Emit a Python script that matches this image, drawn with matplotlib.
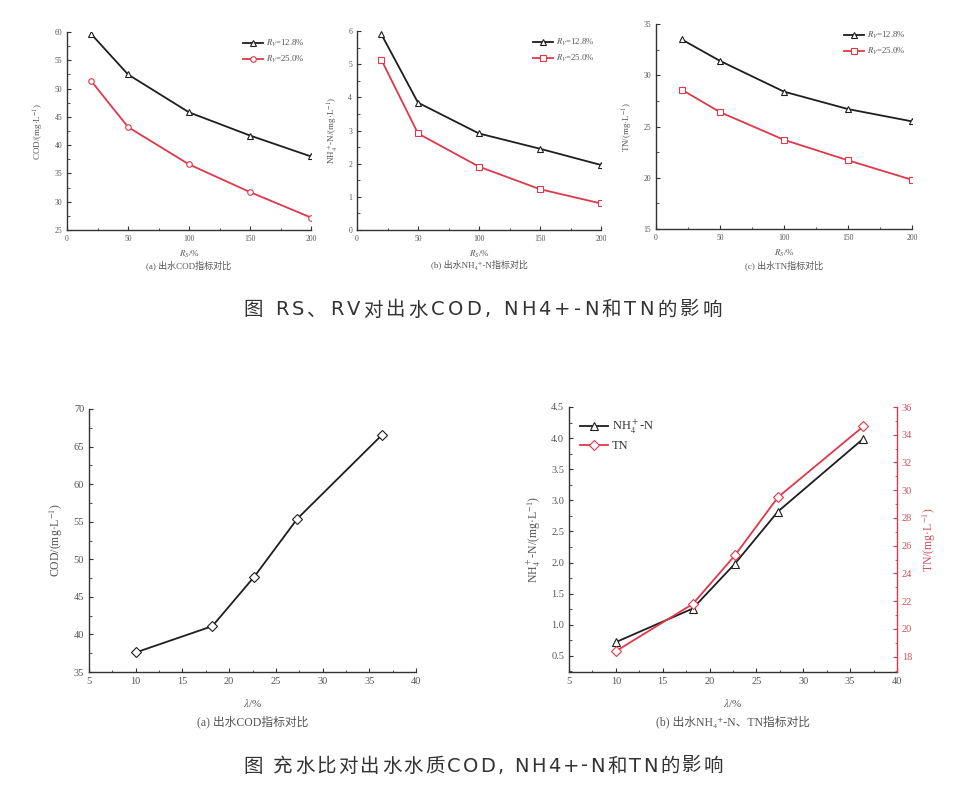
import matplotlib
matplotlib.use("Agg")
import matplotlib.pyplot as plt
from matplotlib.ticker import MultipleLocator, AutoMinorLocator

plt.rcParams['font.family'] = ['Liberation Serif', 'Noto Sans CJK SC', 'DejaVu Sans']
plt.rcParams['mathtext.fontset'] = 'stix'

# ---- data ----
rs = [20, 50, 100, 150, 200]
cod_rv128 = [59.6, 52.5, 45.8, 41.7, 38.0]
cod_rv250 = [51.3, 43.2, 36.6, 31.7, 27.2]
nh4_rv128 = [5.90, 3.84, 2.91, 2.45, 1.96]
nh4_rv250 = [5.13, 2.91, 1.91, 1.23, 0.80]
tn_rv128 = [33.5, 31.4, 28.4, 26.7, 25.5]
tn_rv250 = [28.6, 26.4, 23.7, 21.7, 19.8]

lam = [10, 18.2, 22.7, 27.3, 36.4]
cod_lam = [37.6, 41.1, 47.7, 55.4, 66.6]
nh4_lam = [0.72, 1.26, 1.98, 2.82, 3.99]
tn_lam = [18.4, 21.8, 25.3, 29.5, 34.6]

caption_top = '图 RS、RV对出水COD, NH4+-N和TN的影响'
caption_bottom = '图 充水比对出水水质COD, NH4+-N和TN的影响'

W, H = 961, 789
fig = plt.figure(figsize=(W / 100, H / 100), dpi=100)
fig.patch.set_facecolor('white')

BLACK = '#1e1e1e'
RED = '#e0384a'
GREY = '#555555'
CAPFONT = ['DejaVu Sans', 'Noto Sans CJK SC']


def box(l, r, t, b):
    return [l / W, 1 - b / H, (r - l) / W, (b - t) / H]


def style(ax, fs, minor=True):
    for s in ['top', 'right']:
        ax.spines[s].set_visible(False)
    for s in ['left', 'bottom']:
        ax.spines[s].set_color('#333333')
        ax.spines[s].set_linewidth(1.0)
    ax.tick_params(direction='in', labelsize=fs, colors='#333333', labelcolor=GREY,
                   length=3, width=0.8)
    ax.tick_params(which='minor', direction='in', length=1.8, width=0.6, colors='#333333')
    if minor:
        ax.xaxis.set_minor_locator(AutoMinorLocator(2))
        ax.yaxis.set_minor_locator(AutoMinorLocator(2))


renderer = fig.canvas.get_renderer()


def char_width(ch, fs):
    if ch == ' ':
        a = fig.text(0, 0, 'a a', family=CAPFONT, fontsize=fs)
        b = fig.text(0, 0, 'aa', family=CAPFONT, fontsize=fs)
        w = a.get_window_extent(renderer).width - b.get_window_extent(renderer).width
        a.remove(); b.remove()
        return w
    t = fig.text(0, 0, ch, family=CAPFONT, fontsize=fs)
    w = t.get_window_extent(renderer).width
    t.remove()
    return w


def tracked_caption(s, x0_px, x1_px, y_px, fs):
    widths = [char_width(c, fs) for c in s]
    extra = max(0.0, ((x1_px - x0_px) - sum(widths)) / (len(s) - 1))
    total = sum(widths) + extra * (len(s) - 1)
    x = (x0_px + x1_px) / 2 - total / 2
    for c, w in zip(s, widths):
        if c != ' ':
            fig.text(x / W, 1 - y_px / H, c, family=CAPFONT, fontsize=fs, color='#333333',
                     ha='left', va='center')
        x += w + extra


# ---- top row ----
top_specs = [
    (box(67, 311, 32, 230), cod_rv128, cod_rv250, (25, 60), 5, 'COD/(mg·L$^{-1}$)', 'o',
     '(a) 出水COD指标对比'),
    (box(357, 601, 31, 230), nh4_rv128, nh4_rv250, (0, 6), 1, 'NH$_4^+$-N/(mg·L$^{-1}$)', 's',
     '(b) 出水NH₄⁺-N指标对比'),
    (box(656, 912, 24, 229), tn_rv128, tn_rv250, (15, 35), 5, 'TN/(mg·L$^{-1}$)', 's',
     '(c) 出水TN指标对比'),
]
for rect, yb, yr, ylim, step, ylab, rmk, cap in top_specs:
    ax = fig.add_axes(rect)
    ax.plot(rs, yb, color=BLACK, lw=1.3, marker='^', ms=4, mfc='white', mec=BLACK, mew=0.8,
            label='$R_V$=12.8%')
    ax.plot(rs, yr, color=RED, lw=1.3, marker=rmk, ms=4, mfc='white', mec=RED, mew=0.8,
            label='$R_V$=25.0%')
    ax.set_xlim(0, 200)
    ax.set_ylim(*ylim)
    ax.xaxis.set_major_locator(MultipleLocator(50))
    ax.yaxis.set_major_locator(MultipleLocator(step))
    style(ax, 5.5)
    ax.set_ylabel(ylab, fontsize=6.5, color=GREY, labelpad=6)
    ax.set_xlabel('$R_S$/%', fontsize=6.5, color=GREY, labelpad=4)
    leg = ax.legend(loc='upper right', fontsize=6.3, frameon=False, handlelength=2.2,
                    handletextpad=0.4, labelspacing=0.5, borderaxespad=0.3,
                    bbox_to_anchor=(1.0, 1.0))
    for t in leg.get_texts():
        t.set_color(GREY)
    pos = ax.get_position()
    fig.text(pos.x0 + pos.width / 2, 1 - 265 / H, cap, fontsize=6.5, color=GREY,
             ha='center', va='center')

tracked_caption(caption_top, 243, 722, 310, 14)

# ---- bottom left ----
ax = fig.add_axes(box(89, 416, 409, 672))
ax.plot(lam, cod_lam, color=BLACK, lw=1.3, marker='D', ms=5, mfc='white', mec=BLACK, mew=0.8)
ax.set_xlim(5, 40)
ax.set_ylim(35, 70)
ax.xaxis.set_major_locator(MultipleLocator(5))
ax.yaxis.set_major_locator(MultipleLocator(5))
style(ax, 7.5)
ax.set_ylabel('COD/(mg·L$^{-1}$)', fontsize=8.5, color=GREY, labelpad=6)
ax.set_xlabel('$\\lambda$/%', fontsize=8, color=GREY, labelpad=8)
fig.text((89 + 416) / 2 / W, 1 - 722 / H, '(a) 出水COD指标对比', fontsize=8.5, color=GREY,
         ha='center', va='center')

# ---- bottom right ----
ax = fig.add_axes(box(569, 897, 407, 672))
l1, = ax.plot(lam, nh4_lam, color=BLACK, lw=1.3, marker='^', ms=6, mfc='white', mec=BLACK,
              mew=0.8, label='NH$_4^+$-N')
ax.set_xlim(5, 40)
ax.set_ylim(0.24, 4.5)
ax.xaxis.set_major_locator(MultipleLocator(5))
ax.yaxis.set_major_locator(MultipleLocator(0.5))
ax.yaxis.set_major_formatter(matplotlib.ticker.FormatStrFormatter('%.1f'))
style(ax, 7.5)
ax.set_ylabel('NH$_4^+$-N/(mg·L$^{-1}$)', fontsize=8.5, color=GREY, labelpad=6)
ax.set_xlabel('$\\lambda$/%', fontsize=8, color=GREY, labelpad=8)
ax2 = ax.twinx()
l2, = ax2.plot(lam, tn_lam, color=RED, lw=1.3, marker='D', ms=5, mfc='white', mec=RED,
               mew=0.8, label='TN')
ax2.set_ylim(16.9, 36)
ax2.yaxis.set_major_locator(MultipleLocator(2))
ax2.yaxis.set_minor_locator(AutoMinorLocator(2))
for s in ['top', 'left', 'bottom']:
    ax2.spines[s].set_visible(False)
ax2.spines['right'].set_color(RED)
ax2.spines['right'].set_linewidth(1.0)
ax2.tick_params(direction='in', labelsize=7.5, colors=RED, labelcolor='#d05060', length=3, width=0.8)
ax2.tick_params(which='minor', direction='in', length=1.8, width=0.6, colors=RED)
ax2.set_ylabel('TN/(mg·L$^{-1}$)', fontsize=8.5, color='#d05060', rotation=90, labelpad=6)
leg = ax.legend([l1, l2], ['NH$_4^+$-N', 'TN'], loc='upper left', fontsize=9, frameon=False,
                handlelength=2.2, handletextpad=0.3, labelspacing=0.3, borderaxespad=0.5)
for t in leg.get_texts():
    t.set_color('#333333')
fig.text((569 + 897) / 2 / W, 1 - 722 / H, '(b) 出水NH₄⁺-N、TN指标对比', fontsize=8.5,
         color=GREY, ha='center', va='center')

tracked_caption(caption_bottom, 243, 723, 766, 14)

fig.savefig('out.png', dpi=100, facecolor='white')
